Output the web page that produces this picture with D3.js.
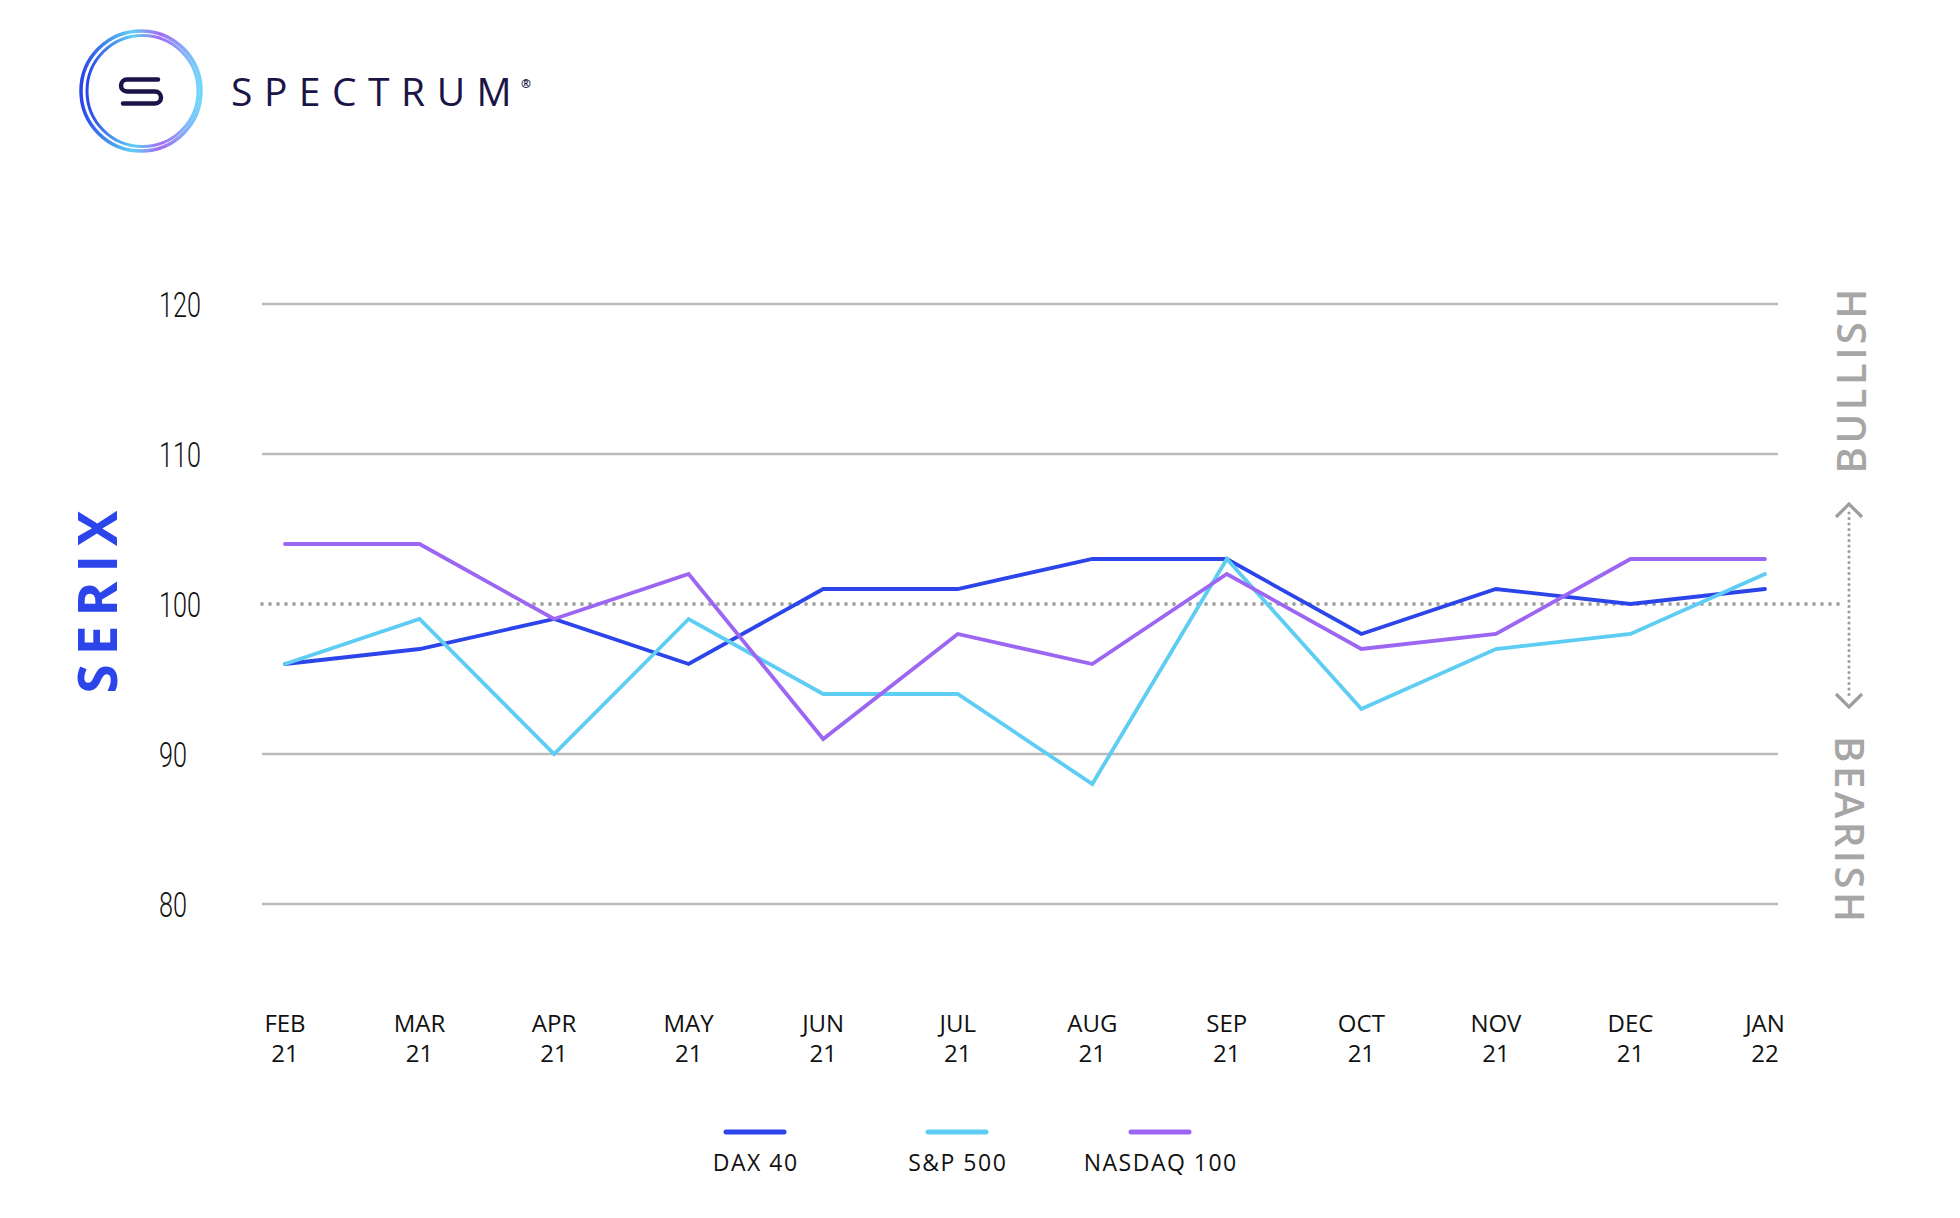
<!DOCTYPE html>
<html>
<head>
<meta charset="utf-8">
<script src="https://cdn.jsdelivr.net/npm/d3@7"></script>
<style>
  html, body { margin: 0; padding: 0; background: #fff; }
  svg { display: block; }
</style>
</head>
<body>
<svg id="chart" width="1960" height="1218"></svg>
<script>
// ---- data ----
const months = ["FEB","MAR","APR","MAY","JUN","JUL","AUG","SEP","OCT","NOV","DEC","JAN"];
const years  = ["21","21","21","21","21","21","21","21","21","21","21","22"];
const dax    = [96, 97, 99, 96, 101, 101, 103, 103, 98, 101, 100, 101];
const sp500  = [96, 99, 90, 99, 94, 94, 88, 103, 93, 97, 98, 102];
const nasdaq = [104, 104, 99, 102, 91, 98, 96, 102, 97, 98, 103, 103];
const yTicks = [80, 90, 100, 110, 120];
const seriesNames = ["DAX 40", "S&P 500", "NASDAQ 100"];

const colors = ["#2b45ea", "#5ecdf3", "#9c66f2"];
const series = [dax, sp500, nasdaq];

const svg = d3.select("#chart");

// ---- scales ----
const x = d3.scalePoint().domain(d3.range(months.length)).range([285, 1765]);
const y = d3.scaleLinear().domain([80, 120]).range([904, 304]);

// ---- logo ----
const defs = svg.append("defs");
const g1 = defs.append("linearGradient").attr("id", "ring1")
  .attr("x1", "0").attr("y1", "0.5").attr("x2", "1").attr("y2", "0.5");
g1.append("stop").attr("offset", "0").attr("stop-color", "#2a45e8");
g1.append("stop").attr("offset", "0.42").attr("stop-color", "#5fcff5");
g1.append("stop").attr("offset", "0.66").attr("stop-color", "#a36cf4");
g1.append("stop").attr("offset", "1").attr("stop-color", "#72d6fa");

const logo = svg.append("g");
logo.append("circle").attr("cx", 141).attr("cy", 91).attr("r", 60)
  .attr("fill", "none").attr("stroke", "url(#ring1)").attr("stroke-width", 3.5);
logo.append("circle").attr("cx", 142.5).attr("cy", 91).attr("r", 55.5)
  .attr("fill", "none").attr("stroke", "url(#ring1)").attr("stroke-width", 3);
// S glyph
logo.append("path")
  .attr("d", "M158,79.5 L127,79.5 A6,6 0 0 0 127,91.5 L155,91.5 A6,6 0 0 1 155,103.5 L123,103.5")
  .attr("fill", "none").attr("stroke", "#1b1547").attr("stroke-width", 4.5)
  .attr("stroke-linecap", "round");

svg.append("text").attr("x", 231).attr("y", 106)
  .attr("font-family", "'Open Sans'").attr("font-size", 39)
  .attr("letter-spacing", 11.5).attr("fill", "#1b1547")
  .text("SPECTRUM");
svg.append("text").attr("x", 521).attr("y", 88)
  .attr("font-family", "'Open Sans'").attr("font-size", 12).attr("font-weight", 700)
  .attr("fill", "#1b1547").text("®");

// ---- grid ----
const grid = svg.append("g");
grid.selectAll("line.g").data(yTicks.filter(d => d !== 100)).join("line")
  .attr("x1", 262).attr("x2", 1778)
  .attr("y1", d => y(d)).attr("y2", d => y(d))
  .attr("stroke", "#bababa").attr("stroke-width", 2.4);

grid.append("line")
  .attr("x1", 262).attr("x2", 1846)
  .attr("y1", y(100)).attr("y2", y(100))
  .attr("stroke", "#a0a0a0").attr("stroke-width", 3.8)
  .attr("stroke-dasharray", "0 8").attr("stroke-linecap", "round");

// y tick labels
svg.append("g").selectAll("text").data(yTicks).join("text")
  .attr("transform", d => `translate(159,${y(d) + 12.5}) scale(0.72,1)`)
  .attr("font-family", "Roboto").attr("font-weight", 300).attr("font-size", 35)
  .attr("fill", "#111").text(d => d);

// SERIX
svg.append("text")
  .attr("transform", "translate(96,602) rotate(-90)")
  .attr("text-anchor", "middle").attr("dominant-baseline", "central")
  .attr("font-family", "'Open Sans'").attr("font-weight", 700).attr("font-size", 53)
  .attr("letter-spacing", 9).attr("dx", 4.5)
  .attr("fill", "#2b45ea").text("SERIX");

// bullish / bearish indicator
const ind = svg.append("g").attr("stroke", "#9e9e9e").attr("fill", "none");
ind.append("line").attr("x1", 1849).attr("x2", 1849).attr("y1", 513).attr("y2", 698)
  .attr("stroke-width", 3.2).attr("stroke-dasharray", "0 5.5").attr("stroke-linecap", "round");
ind.append("path").attr("d", "M1836,517 L1849,504 L1862,517").attr("stroke-width", 3.2);
ind.append("path").attr("d", "M1836,694 L1849,707 L1862,694").attr("stroke-width", 3.2);

svg.append("text")
  .attr("transform", "translate(1850,381) rotate(-90)")
  .attr("text-anchor", "middle").attr("dominant-baseline", "central")
  .attr("font-family", "'Open Sans'").attr("font-size", 40).attr("font-weight", 600)
  .attr("letter-spacing", 3.5).attr("dx", 1.75)
  .attr("fill", "#a6a6a6").text("BULLISH");
svg.append("text")
  .attr("transform", "translate(1850,829) rotate(90)")
  .attr("text-anchor", "middle").attr("dominant-baseline", "central")
  .attr("font-family", "'Open Sans'").attr("font-size", 40).attr("font-weight", 600)
  .attr("letter-spacing", 3.5).attr("dx", 1.75)
  .attr("fill", "#a6a6a6").text("BEARISH");

// ---- lines ----
const line = d3.line().x((d, i) => x(i)).y(d => y(d)).curve(d3.curveLinear);
svg.append("g").selectAll("path").data(series).join("path")
  .attr("d", d => line(d))
  .attr("fill", "none")
  .attr("stroke", (d, i) => colors[i])
  .attr("stroke-width", 3.8)
  .attr("stroke-linejoin", "miter")
  .attr("stroke-linecap", "round");

// ---- x labels ----
const xl = svg.append("g").attr("font-family", "'Open Sans'").attr("font-size", 24)
  .attr("fill", "#111").attr("text-anchor", "middle");
xl.selectAll("text.m").data(months).join("text")
  .attr("x", (d, i) => x(i)).attr("y", 1032).text(d => d);
xl.selectAll("text.yr").data(years).join("text")
  .attr("x", (d, i) => x(i)).attr("y", 1062).text(d => d);

// ---- legend ----
const legendX = [755, 957, 1160];
const lg = svg.append("g");
lg.selectAll("line").data(seriesNames).join("line")
  .attr("x1", (d, i) => legendX[i] - 29).attr("x2", (d, i) => legendX[i] + 29)
  .attr("y1", 1132).attr("y2", 1132)
  .attr("stroke", (d, i) => colors[i]).attr("stroke-width", 5)
  .attr("stroke-linecap", "round");
lg.selectAll("text").data(seriesNames).join("text")
  .attr("x", (d, i) => legendX[i]).attr("y", 1171)
  .attr("text-anchor", "middle").attr("dx", 0.75)
  .attr("font-family", "'Open Sans'").attr("font-size", 23)
  .attr("letter-spacing", 1.5).attr("fill", "#111")
  .text(d => d);
</script>
</body>
</html>
